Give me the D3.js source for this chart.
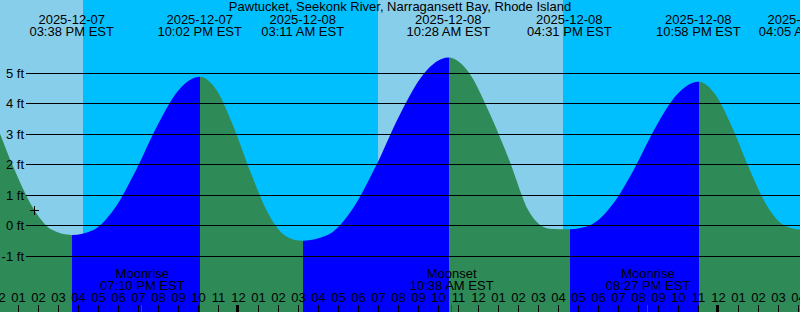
<!DOCTYPE html>
<html lang="en">
<head>
<meta charset="utf-8" />
<title>Tide graph</title>
<script src="https://cdn.jsdelivr.net/npm/d3@7"></script>
<style>
    body { margin: 0; background: #fff; }
    svg { display: block; }
    text { font-family: "Liberation Sans", Arial, sans-serif; font-size: 13px; fill: #000; }
</style>
</head>
<body>
<svg width="800" height="312"></svg>
<script>
// station and data (times are local EST)
var title = "Pawtucket, Seekonk River, Narragansett Bay, Rhode Island";

var extremaTimes = ["2025-12-07T09:44", "2025-12-07T15:38", "2025-12-07T22:02", "2025-12-08T03:11",
                    "2025-12-08T10:28", "2025-12-08T16:31", "2025-12-08T22:58", "2025-12-09T04:05",
                    "2025-12-09T10:40"];
var extremaHeights = [5.3, -0.32, 4.87, -0.51, 5.50, -0.13, 4.71, -0.14, 5.3];

// heights
var readingTimes = ["2025-12-07T10:43", "2025-12-07T11:42", "2025-12-07T12:41", "2025-12-07T13:40", "2025-12-07T14:39",
                    "2025-12-07T16:42", "2025-12-07T17:46", "2025-12-07T18:50", "2025-12-07T19:54", "2025-12-07T20:58",
                    "2025-12-07T22:54", "2025-12-07T23:45", "2025-12-08T00:37", "2025-12-08T01:28", "2025-12-08T02:20",
                    "2025-12-08T04:24", "2025-12-08T05:37", "2025-12-08T06:50", "2025-12-08T08:02", "2025-12-08T09:15",
                    "2025-12-08T11:29", "2025-12-08T12:29", "2025-12-08T13:30", "2025-12-08T14:30", "2025-12-08T15:31",
                    "2025-12-08T17:36", "2025-12-08T18:40", "2025-12-08T19:45", "2025-12-08T20:49", "2025-12-08T21:54",
                    "2025-12-08T23:49", "2025-12-09T00:40", "2025-12-09T01:32", "2025-12-09T02:23", "2025-12-09T03:14"];
var readingHeights = [4.82, 3.55, 1.96, 0.61, -0.15,
                      -0.16, 0.54, 1.79, 3.25, 4.42,
                      4.41, 3.19, 1.67, 0.38, -0.35,
                      -0.33, 0.48, 1.93, 3.62, 4.98,
                      5.02, 3.74, 2.16, 0.45, -0.11,
                      0.02, 0.67, 1.84, 3.20, 4.29,
                      4.29, 3.20, 1.83, 0.66, 0.01];

var sunriseTimes = ["2025-12-07T06:57", "2025-12-08T06:58"];
var sunsetTimes = ["2025-12-07T16:13", "2025-12-08T16:13"];

var moonTimes = ["2025-12-07T19:10", "2025-12-08T10:38", "2025-12-08T20:27"];
var moonNames = ["Moonrise", "Moonset", "Moonrise"];

var nowTime = "2025-12-07T13:46";
var nowHeight = 0.49;

var yTicks = [-1, 0, 1, 2, 3, 4, 5];
var hourStart = "2025-12-07T12:00", hourEnd = "2025-12-09T05:00";

var parse = d3.utcParse("%Y-%m-%dT%H:%M");
var fmtDate = d3.utcFormat("%Y-%m-%d");
var fmtTime = d3.utcFormat("%I:%M %p EST");
var fmtHour = d3.utcFormat("%I");

var svg = d3.select("svg"),
    width = +svg.attr("width"),
    height = +svg.attr("height");

var x = d3.scaleUtc()
    .domain([parse("2025-12-07T12:03"), parse("2025-12-09T04:03")])
    .range([0, width]);
var y = d3.scaleLinear().domain([-2.843, 7.387]).range([height, 0]);

// sky: night everywhere, day rectangles on top
svg.append("rect").attr("width", width).attr("height", height).attr("fill", "#00bfff");
svg.selectAll("rect.day")
    .data(sunriseTimes)
    .enter().append("rect")
    .attr("class", "day")
    .attr("x", function(d) { return Math.max(0, Math.round(x(parse(d)))); })
    .attr("width", function(d, i) {
        return Math.round(x(parse(sunsetTimes[i]))) - Math.max(0, Math.round(x(parse(d))));
    })
    .attr("y", 0)
    .attr("height", height)
    .attr("fill", "#87ceeb");

// tide curve
var extrema = extremaTimes.map(function(t, i) { return { t: parse(t), h: extremaHeights[i] }; });
var points = extrema.concat(readingTimes.map(function(t, i) { return { t: parse(t), h: readingHeights[i] }; }))
    .sort(function(a, b) { return a.t - b.t; });

var area = d3.area()
    .x(function(d) { return x(d.t); })
    .y0(height)
    .y1(function(d) { return y(d.h); })
    .curve(d3.curveMonotoneX);

var defs = svg.append("defs");
extrema.slice(0, -1).forEach(function(e, i) {
    var next = extrema[i + 1];
    var x0 = Math.ceil(x(e.t)), x1 = Math.ceil(x(next.t));
    defs.append("clipPath").attr("id", "seg" + i)
        .append("rect").attr("x", x0).attr("y", 0).attr("width", x1 - x0).attr("height", height);
    svg.append("path")
        .attr("d", area(points))
        .attr("clip-path", "url(#seg" + i + ")")
        .attr("fill", next.h > e.h ? "#0000ff" : "#2e8b57");
});

// height lines and labels
svg.selectAll("line.grid")
    .data(yTicks)
    .enter().append("line")
    .attr("x1", 26).attr("x2", width)
    .attr("y1", function(d) { return Math.round(y(d)) + 0.5; })
    .attr("y2", function(d) { return Math.round(y(d)) + 0.5; })
    .attr("stroke", "#000");
svg.selectAll("text.ylab")
    .data(yTicks)
    .enter().append("text")
    .attr("x", 24)
    .attr("y", function(d) { return Math.round(y(d)) + 5; })
    .attr("text-anchor", "end")
    .text(function(d) { return d + " ft"; });

// current time marker
var cx = Math.round(x(parse(nowTime))), cy = Math.round(y(nowHeight));
svg.append("path")
    .attr("d", "M" + (cx - 4) + "," + (cy + 0.5) + "H" + (cx + 5) +
               "M" + (cx + 0.5) + "," + (cy - 4) + "V" + (cy + 5))
    .attr("stroke", "#000");

// title and tide event labels
svg.append("text").attr("x", width / 2).attr("y", 11).attr("text-anchor", "middle").text(title);
var shown = extrema.filter(function(e) { return x(e.t) >= 0 && x(e.t) <= width + 1; });
var ev = svg.selectAll("g.event").data(shown).enter().append("g")
    .attr("transform", function(d) { return "translate(" + x(d.t) + ",0)"; })
    .attr("text-anchor", "middle");
ev.append("text").attr("y", 24).text(function(d) { return fmtDate(d.t); });
ev.append("text").attr("y", 36).text(function(d) { return fmtTime(d.t); });

// moon labels
var moon = svg.selectAll("g.moon").data(moonTimes).enter().append("g")
    .attr("transform", function(d) { return "translate(" + x(parse(d)) + ",0)"; })
    .attr("text-anchor", "middle");
moon.append("text").attr("y", 278).text(function(d, i) { return moonNames[i]; });
moon.append("text").attr("y", 290).text(function(d) { return fmtTime(parse(d)); });

// hour ticks along the bottom
var hours = d3.utcHour.range(parse(hourStart), parse(hourEnd));
svg.selectAll("text.hour")
    .data(hours)
    .enter().append("text")
    .attr("x", function(d) { return Math.round(x(d)) - 0.5; })
    .attr("y", 302)
    .attr("text-anchor", "middle")
    .text(function(d) { return fmtHour(d); });
svg.selectAll("rect.tick")
    .data(hours)
    .enter().append("rect")
    .attr("x", function(d) { return Math.round(x(d)) - (d.getUTCHours() === 0 ? 3 : 1); })
    .attr("width", function(d) { return d.getUTCHours() === 0 ? 3 : 1; })
    .attr("y", 305)
    .attr("height", 7)
    .attr("fill", "#000");
svg.selectAll("rect.mtick")
    .data(moonTimes)
    .enter().append("rect")
    .attr("x", function(d) { return Math.round(x(parse(d))) - 1; })
    .attr("width", 1)
    .attr("y", 305)
    .attr("height", 7)
    .attr("fill", "#ff0000");
</script>
</body>
</html>
